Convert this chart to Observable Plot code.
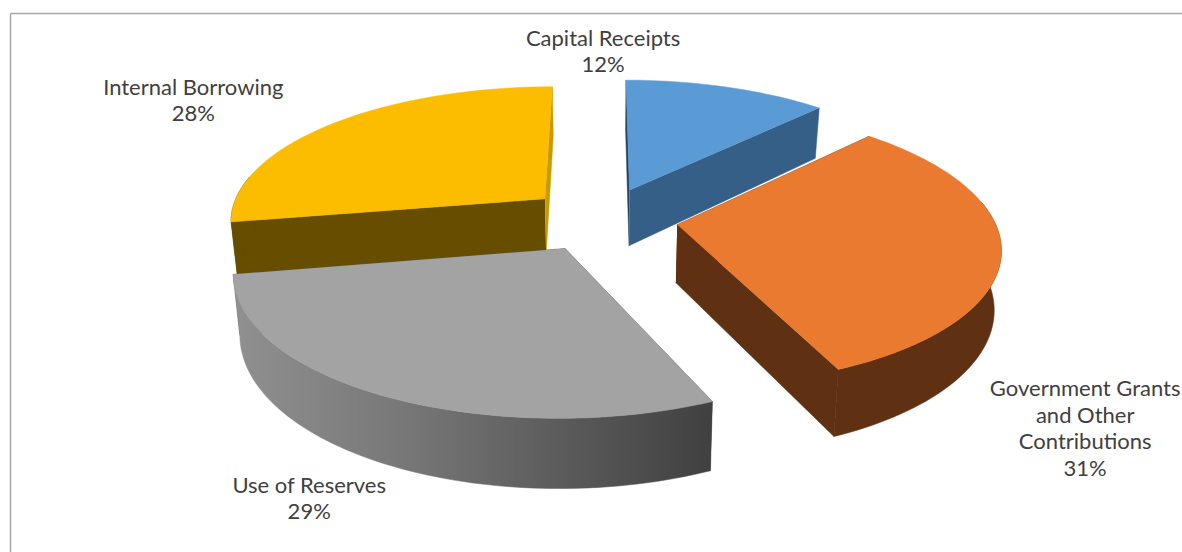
<!DOCTYPE html>
<html>
<head>
<meta charset="utf-8">
<style>html,body{margin:0;padding:0;background:#fff;overflow:hidden}svg{display:block}</style>
<script src="https://cdn.jsdelivr.net/npm/d3@7"></script>
<script src="https://cdn.jsdelivr.net/npm/@observablehq/plot@0.6"></script>
</head>
<body>
<script>
// ---- chart values ----
const categories = ["Capital Receipts", "Government Grants\nand Other\nContributions", "Use of Reserves", "Internal Borrowing"];
const shares = [12.2, 31.2, 28.8, 27.8]; // labels show them rounded
const topColors = ["#5b9bd5", "#ea7a30", "#a3a3a3", "#fcbc00"];
const sideColors = ["#355f87", "#5f3012", "url(#rimShade)", "#664d00"];
const endColors = ["#355f87", "#5f3012", "#5a5a5a", "#c89a00"];
const startColors = ["#24425e", "#5f3012", "#5a5a5a", "#664d00"];
const paintOrder = [0, 3, 1, 2];
const labelReach = [1.532, 1.768, 1.735, 1.80];
const labelTurn = [-21.8, 35.5, -4.1, -5.7];

// ---- pie model: unit disc, exploded, seen through a perspective ----
const view = {cx: 601.5, cy: 218.6, rx: 316.5, ry: 134.5, depth: 57.5, persp: 0.15, narrow: 0.018, explode: 0.24};
const W = 1182, H = 552;
const rad = d => d * Math.PI / 180;
function project(mx, my, z) { // my > 0 is towards the viewer; z = 1 is the underside of the pie
  const f = 1 / (1 - view.persp * my);
  return {x: view.cx + view.rx * mx * f * (1 - view.narrow * z), y: view.cy + (view.ry * my + view.depth * z) * f};
}
const total = d3.sum(shares);
let acc = 0;
const slices = shares.map((s, i) => {
  const a0 = acc / total * 360; acc += s; const a1 = acc / total * 360; const mid = (a0 + a1) / 2;
  return {i, a0, a1, mid, ox: view.explode * Math.sin(rad(mid)), oy: -view.explode * Math.cos(rad(mid))};
});
const rimPt = (sl, a, z) => project(sl.ox + Math.sin(rad(a)), sl.oy - Math.cos(rad(a)), z);
const apex = (sl, z) => project(sl.ox, sl.oy, z);
function arc(sl, z, rev, from = sl.a0, to = sl.a1) {
  const n = Math.max(1, Math.ceil((to - from) / 1.5)), out = [];
  for (let k = 0; k <= n; k++) out.push(rimPt(sl, from + (to - from) * k / n, z));
  return rev ? out.reverse() : out;
}
const points = [];
const push = (face, fill, pts) => pts.forEach(p => points.push({face, fill, x: p.x, y: p.y}));
for (const i of paintOrder) {
  const sl = slices[i];
  push(i + "-start", startColors[i], [apex(sl, 0), rimPt(sl, sl.a0, 0), rimPt(sl, sl.a0, 1), apex(sl, 1)]);
  push(i + "-end", endColors[i], [apex(sl, 0), rimPt(sl, sl.a1, 0), rimPt(sl, sl.a1, 1), apex(sl, 1)]);
  const from = Math.max(sl.a0, 80), to = Math.min(sl.a1, 280);
  if (to > from) push(i + "-rim", sideColors[i], [...arc(sl, 0, false, from, to), ...arc(sl, 1, true, from, to)]);
  push(i + "-top", topColors[i], [apex(sl, 0), ...arc(sl, 0)]);
}
const labels = slices.map(sl => {
  const a = sl.mid + labelTurn[sl.i], r = labelReach[sl.i];
  const p = project(r * Math.sin(rad(a)), -r * Math.cos(rad(a)), 0);
  return {x: p.x, y: p.y, text: categories[sl.i] + "\n" + Math.round(shares[sl.i]) + "%"};
});
const border = [{x1: 10, y1: 13, x2: W, y2: 13}, {x1: 10, y1: 13, x2: 10, y2: H}];

const gradient = () => {
  const defs = d3.create("svg:defs");
  const g = defs.append("linearGradient").attr("id", "rimShade").attr("x1", 0).attr("x2", 1).attr("y1", 0).attr("y2", 0);
  [[0, "#909090"], [0.35, "#787878"], [0.7, "#5a5a5a"], [1, "#404040"]].forEach(([o, c]) =>
    g.append("stop").attr("offset", o).attr("stop-color", c));
  return defs.node();
};

const chart = Plot.plot({
  width: W, height: H, margin: 0,
  x: {domain: [0, W], range: [0, W], axis: null},
  y: {domain: [0, H], range: [0, H], axis: null},
  color: {type: "identity"},
  marks: [
    gradient,
    Plot.link(border, {x1: "x1", y1: "y1", x2: "x2", y2: "y2", stroke: "#a6a6a6", strokeWidth: 1.5}),
    Plot.line(points, {x: "x", y: "y", z: "face", fill: "fill", stroke: "fill", strokeWidth: 0.5, curve: "linear"}),
    Plot.text(labels, {x: "x", y: "y", dy: -1, text: "text", fontSize: 22, lineHeight: 1.2, fill: "#404040", textAnchor: "middle", fontFamily: "Lato"})
  ]
});
document.body.appendChild(chart);
</script>
</body>
</html>
